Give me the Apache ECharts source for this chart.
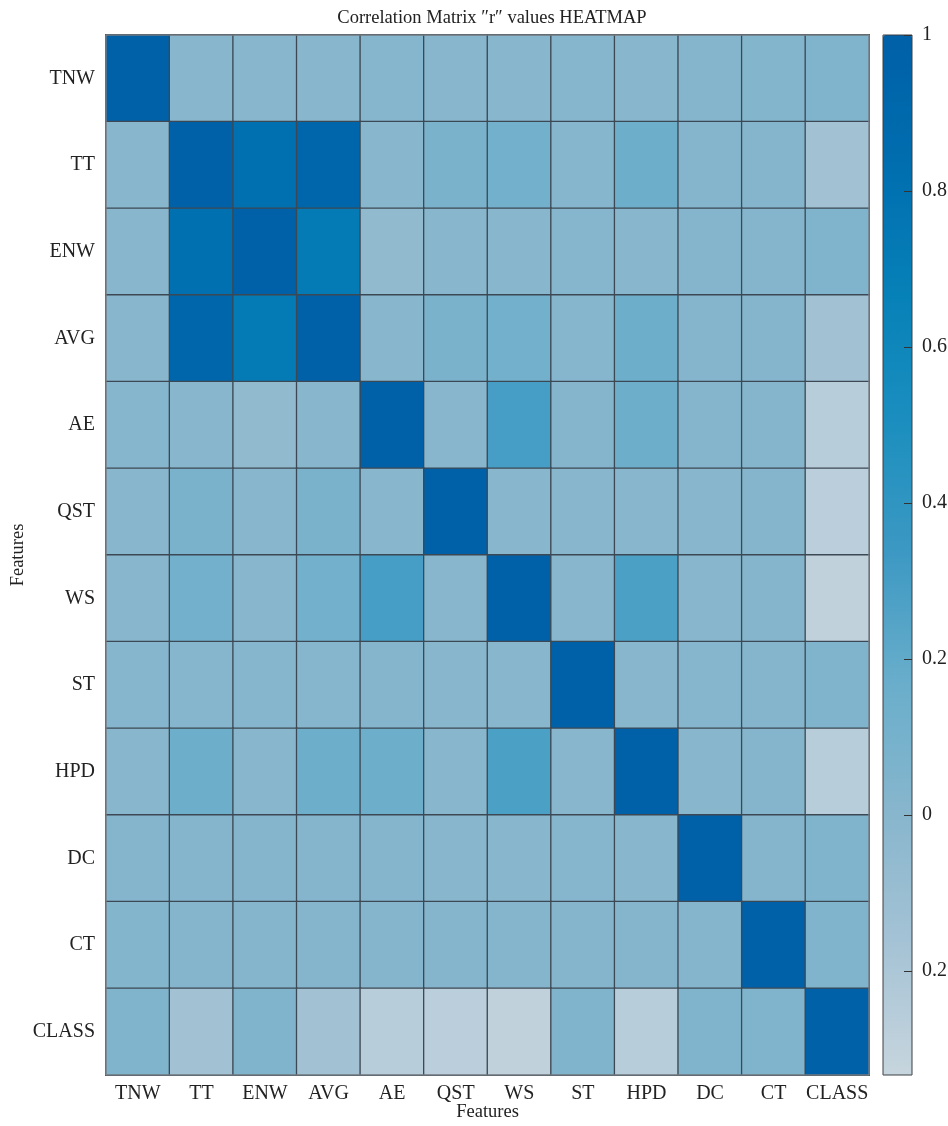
<!DOCTYPE html>
<html>
<head>
<meta charset="utf-8">
<script src="https://cdn.jsdelivr.net/npm/echarts@6/dist/echarts.min.js"></script>
<style>
html,body{margin:0;padding:0;background:#fff;}
#chart{width:948px;height:1126px;}
</style>
</head>
<body>
<div id="chart"></div>
<script>
// Feature names (x categories left->right, y categories top->bottom)
const features = ['TNW','TT','ENW','AVG','AE','QST','WS','ST','HPD','DC','CT','CLASS'];

// Correlation "r" values, one row per feature (columns in the order of `features`)
const rowTNW   = [1.00, 0.00, 0.00, 0.00, 0.01, 0.00, 0.00, 0.01, 0.00, 0.02, 0.03, 0.05];
const rowTT    = [0.00, 1.00, 0.82, 0.93, 0.00, 0.08, 0.12, 0.01, 0.15, 0.02, 0.02, -0.15];
const rowENW   = [0.00, 0.82, 1.00, 0.72, -0.05, 0.00, 0.00, 0.01, 0.00, 0.02, 0.02, 0.05];
const rowAVG   = [0.00, 0.93, 0.72, 1.00, 0.00, 0.08, 0.12, 0.01, 0.15, 0.02, 0.02, -0.15];
const rowAE    = [0.01, 0.00, -0.05, 0.00, 1.00, 0.00, 0.30, 0.02, 0.15, 0.02, 0.02, -0.26];
const rowQST   = [0.00, 0.08, 0.00, 0.08, 0.00, 1.00, 0.00, 0.00, 0.00, 0.00, 0.02, -0.27];
const rowWS    = [0.00, 0.12, 0.00, 0.12, 0.30, 0.00, 1.00, 0.00, 0.28, 0.00, 0.02, -0.30];
const rowST    = [0.01, 0.01, 0.01, 0.01, 0.02, 0.00, 0.00, 1.00, 0.00, 0.01, 0.02, 0.05];
const rowHPD   = [0.00, 0.15, 0.00, 0.15, 0.15, 0.00, 0.28, 0.00, 1.00, 0.00, 0.02, -0.26];
const rowDC    = [0.02, 0.02, 0.02, 0.02, 0.02, 0.00, 0.00, 0.01, 0.00, 1.00, 0.02, 0.05];
const rowCT    = [0.03, 0.02, 0.02, 0.02, 0.02, 0.02, 0.02, 0.02, 0.02, 0.02, 1.00, 0.05];
const rowCLASS = [0.05, -0.15, 0.05, -0.15, -0.26, -0.27, -0.30, 0.05, -0.26, 0.05, 0.05, 1.00];

const rows = [rowTNW,rowTT,rowENW,rowAVG,rowAE,rowQST,rowWS,rowST,rowHPD,rowDC,rowCT,rowCLASS];

// Colour bar range and tick labels
const cbMin = -1/3;
const cbMax = 1;
const cbTicks = [-0.2, 0, 0.2, 0.4, 0.6, 0.8, 1];

const data = [];
rows.forEach((r, yi) => r.forEach((v, xi) => data.push([xi, yi, v])));

const FONT = '"Liberation Serif", "DejaVu Serif", serif';
const chart = echarts.init(document.getElementById('chart'), null, {renderer:'canvas'});

chart.setOption({
  animation: false,
  backgroundColor: '#fff',
  title: {
    text: 'Correlation Matrix \u2033r\u2033 values HEATMAP',
    left: 487, top: 4, textAlign: 'center',
    textStyle: {fontFamily: FONT, fontSize: 18.5, fontWeight: 'normal', color: '#222'}
  },
  grid: [
    {left: 106, top: 35, width: 763, height: 1040, show: true, borderColor: '#8a8f94', borderWidth: 1, z: 5,
     containLabel: false, outerBoundsMode: 'none'},
    {left: 883, top: 35, width: 29, height: 1040, show: true, borderColor: '#3a3f44', borderWidth: 1, z: 10,
     containLabel: false, outerBoundsMode: 'none'}
  ],
  xAxis: [
    {
      type: 'category', data: features, gridIndex: 0,
      axisLine: {show: false}, axisTick: {show: false}, splitLine: {show: false},
      axisLabel: {fontFamily: FONT, fontSize: 20, color: '#222', margin: 9, interval: 0},
      name: 'Features', nameLocation: 'middle', nameGap: 28, nameMoveOverlap: false,
      nameTextStyle: {fontFamily: FONT, fontSize: 18.5, color: '#222'}
    },
    {type: 'value', gridIndex: 1, show: false, min: 0, max: 1}
  ],
  yAxis: [
    {
      type: 'category', data: features, gridIndex: 0, inverse: true,
      axisLine: {show: false}, axisTick: {show: false}, splitLine: {show: false},
      axisLabel: {fontFamily: FONT, fontSize: 20, color: '#222', margin: 11, interval: 0},
      name: 'Features', nameLocation: 'middle', nameGap: 78, nameRotate: 90, nameMoveOverlap: false,
      nameTextStyle: {fontFamily: FONT, fontSize: 18.5, color: '#222'}
    },
    {
      type: 'value', gridIndex: 1, position: 'right', min: cbMin, max: cbMax, z: 10,
      axisLine: {show: false, onZero: false}, splitLine: {show: false},
      axisTick: {show: true, inside: true, length: 8, customValues: cbTicks, lineStyle: {color: '#333', width: 1}},
      axisLabel: {
        show: true, margin: 10, customValues: cbTicks,
        fontFamily: FONT, fontSize: 20, color: '#222',
        formatter: v => String(Math.round(Math.abs(v) * 10) / 10)
      }
    }
  ],
  visualMap: {
    type: 'continuous', seriesIndex: 0, min: cbMin, max: cbMax,
    calculable: false, orient: 'vertical', left: 883, top: 35,
    itemWidth: 29, itemHeight: 1040, padding: 0, hoverLink: false,
    text: null,
    inRange: {color: ['#c7d5de','#a5c3d5','#88b6cd','#6aaecb','#3d99c3','#1c8fbf','#0681b8','#006eaf','#0060a8']}
  },
  series: [{
    type: 'heatmap', xAxisIndex: 0, yAxisIndex: 0, data: data,
    itemStyle: {borderColor: '#3c4853', borderWidth: 1.3},
    emphasis: {disabled: true}
  }]
});
</script>
</body>
</html>
